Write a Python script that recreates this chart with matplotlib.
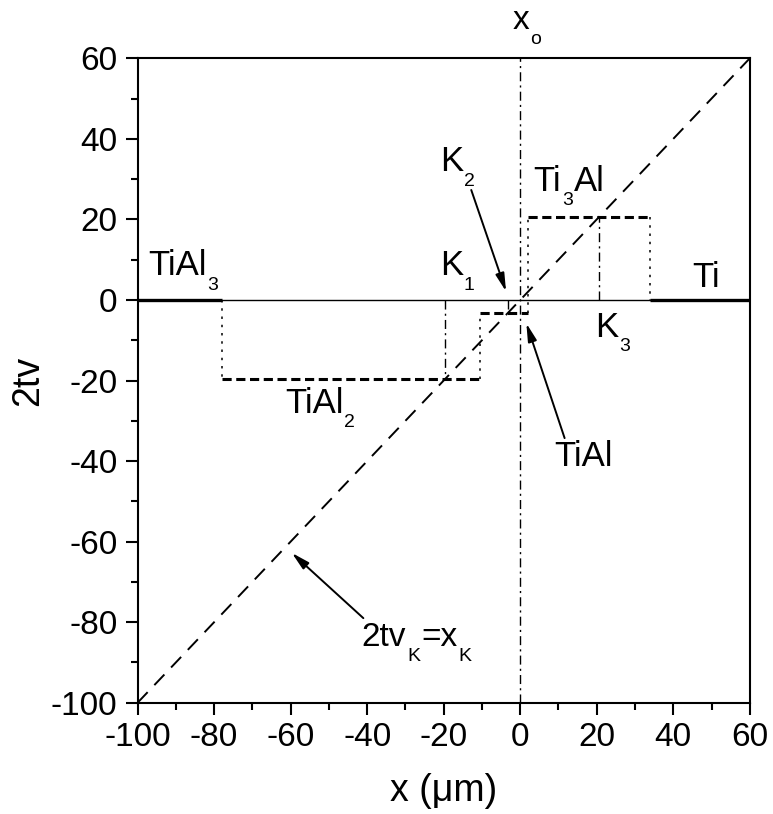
import matplotlib
matplotlib.use('Agg')
import matplotlib.pyplot as plt
import numpy as np
from matplotlib.ticker import MultipleLocator

plt.rcParams['font.family'] = ['Liberation Sans', 'DejaVu Sans']
plt.rcParams['axes.unicode_minus'] = False

# phase boundaries (um) and 2tv level of each phase
edges = [-100, -78, -10.5, 2, 34, 60]
levels = [0, -19.7, -3.3, 20.5, 0]
phases = ['TiAl3', 'TiAl2', 'TiAl', 'Ti3Al', 'Ti']
# K points lie on 2tv_K = x_K
k_x = [-19.7, -3.3, 20.5]

diag = np.array([-100, 60])

fig = plt.figure(figsize=(7.73, 8.14), dpi=100)
ax = fig.add_axes([0.178, 0.1367, 0.792, 0.7917])

# base line and x_o
ax.axhline(0, color='k', lw=1.0, zorder=2)
ax.axvline(0, color='k', lw=1.0, dashes=(6.5, 3, 1.5, 3))
ax.plot(diag, diag, color='k', lw=1.4, dashes=(7.5, 5))

# step profile
for i in range(len(levels)):
    xs = [edges[i], edges[i+1]]
    ys = [levels[i], levels[i]]
    if levels[i] == 0:
        ax.plot(xs, ys, color='k', lw=2.4, solid_capstyle='butt', zorder=3)
    else:
        ax.plot(xs, ys, color='k', lw=2.2, dashes=(3, 1.5), zorder=3)
for i in range(1, len(levels)):
    ax.plot([edges[i], edges[i]], [levels[i-1], levels[i]], color='k',
            lw=1.1, dashes=(1.6, 3.8))

# K lines
for xk in k_x:
    ax.plot([xk, xk], [0, xk], color='k', lw=1.0, dashes=(6.5, 3, 1.5, 3))

ax.set_xlim(-100, 60)
ax.set_ylim(-100, 60)
ax.xaxis.set_major_locator(MultipleLocator(20))
ax.xaxis.set_minor_locator(MultipleLocator(10))
ax.yaxis.set_major_locator(MultipleLocator(20))
ax.yaxis.set_minor_locator(MultipleLocator(10))
ax.tick_params(which='both', direction='out', width=1.5, top=False, right=False)
ax.tick_params(which='major', length=8.6, labelsize=24, pad=5)
ax.tick_params(axis='y', which='major', pad=6)
ax.tick_params(which='minor', length=5)
for s in ax.spines.values():
    s.set_linewidth(1.5)

ax.set_xlabel('x (\u03bcm)', fontsize=27, labelpad=15)
ax.set_ylabel('2tv', fontsize=27, labelpad=3)


def chem(x, y, parts, size=25, sub=14, drop=10.5):
    # parts alternate: normal, subscript, normal, ...
    prev = ax.text(x, y, parts[0], fontsize=size, va='baseline', ha='left',
                   clip_on=False)
    for k, s in enumerate(parts[1:]):
        if k % 2 == 0:
            prev = ax.annotate(s, xy=(1, y), xycoords=(prev, 'data'),
                               xytext=(0.6, -drop), textcoords='offset points',
                               fontsize=sub, va='baseline', ha='left',
                               annotation_clip=False)
        else:
            prev = ax.annotate(s, xy=(1, y), xycoords=(prev, 'data'),
                               xytext=(0.6, 0), textcoords='offset points',
                               fontsize=size, va='baseline', ha='left',
                               annotation_clip=False)


chem(-97.3, 6.2, ['TiAl', '3'])
chem(-61.5, -28.0, ['TiAl', '2'])
chem(9.0, -41.3, ['TiAl'])
chem(3.5, 27.1, ['Ti', '3', 'Al'])
chem(45.0, 3.3, ['Ti'])
chem(-21.0, 6.2, ['K', '1'])
chem(-21.0, 31.9, ['K', '2'])
chem(19.5, -9.1, ['K', '3'])
chem(-2.0, 67.2, ['x', 'o'], size=24)
chem(-41.4, -86.0, ['2tv', 'K', '=x', 'K'], size=24)

arrow = dict(arrowstyle='-|>,head_length=0.9,head_width=0.22', color='k',
             lw=1.4, shrinkA=0, shrinkB=0, mutation_scale=12)
ax.annotate('', xy=(-3.7, 2.1), xytext=(-12.8, 27.3), arrowprops=arrow)
ax.annotate('', xy=(1.6, -5.8), xytext=(11.6, -34.3), arrowprops=arrow)
ax.annotate('', xy=(-59.7, -62.8), xytext=(-41.0, -79.0), arrowprops=arrow)

fig.savefig('out.png', dpi=100)
